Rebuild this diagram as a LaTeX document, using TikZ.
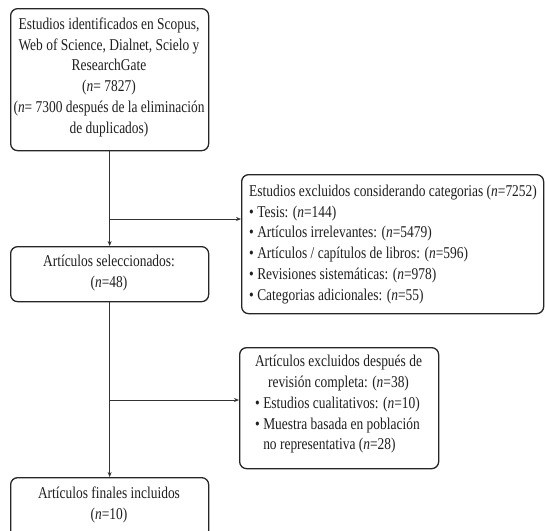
\documentclass[tikz,border=0pt]{standalone}
\usepackage{fontspec}
\setmainfont{Liberation Serif}[FakeStretch=0.815]
\usetikzlibrary{arrows.meta}
\newcommand\firstln{\rule{0pt}{12pt}}
\begin{document}
\begin{tikzpicture}[x=1pt,y=-1pt,
  box/.style={draw=black!85, line width=1.3pt, rounded corners=7pt, inner sep=0pt, anchor=north west},
  txt/.style={inner sep=0pt, font=\fontsize{16.5}{20.8}\selectfont, text=black!88},
  arr/.style={draw=black!80, line width=1pt, -{Stealth[length=5pt,width=4pt]}}]
\useasboundingbox[fill=white] (0,0) rectangle (545,530);
% boxes
\node[box, minimum width=198pt, minimum height=142pt] (b1) at (10,8) {};
\node[box, minimum width=198pt, minimum height=55pt] (b2) at (10,246) {};
\node[box, minimum width=302pt, minimum height=139pt] (e1) at (241,174) {};
\node[box, minimum width=199pt, minimum height=121pt] (e2) at (239,347) {};
\node[box, minimum width=198pt, minimum height=60pt] (b3) at (10,477) {};
% texts
\node[txt, align=center, anchor=north] (t1) at (109,17)
  {\firstln Estudios identificados en Scopus,\\Web of Science, Dialnet, Scielo y\\ResearchGate\\(\textit{n}= 7827)\\(\textit{n}= 7300 después de la eliminación\\de duplicados)};
\node[txt, align=center, anchor=north] (t2) at (109,254.5)
  {\firstln Artículos seleccionados:\\(\textit{n}=48)};
\node[txt, align=left, anchor=north west] (t3) at (249,184)
  {\firstln Estudios excluidos considerando categorias (\textit{n}=7252)\\
   • Tesis: (\textit{n}=144)\\
   • Artículos irrelevantes: (\textit{n}=5479)\\
   • Artículos / capítulos de libros: (\textit{n}=596)\\
   • Revisiones sistemáticas: (\textit{n}=978)\\
   • Categorias adicionales: (\textit{n}=55)};
\node[txt, align=center, anchor=north] (t4) at (338.5,354)
  {\firstln Artículos excluidos después de\\revisión completa: (\textit{n}=38)};
\node[txt, align=left, anchor=north west] (t5) at (255,396)
  {\firstln • Estudios cualitativos: (\textit{n}=10)\\
   • Muestra basada en población\\
   \phantom{• }no representativa (\textit{n}=28)};
\node[txt, align=center, anchor=north] (t6) at (109,486)
  {\firstln Artículos finales incluidos\\(\textit{n}=10)};
% connectors
\coordinate (j1) at (109,219);
\coordinate (j2) at (109,400);
\draw[arr] (b1.south) -- (b2.north);
\draw[arr] (j1) -- (j1 -| e1.west);
\draw[arr] (b2.south) -- (b3.north);
\draw[arr] (j2) -- (j2 -| e2.west);
\end{tikzpicture}
\end{document}
